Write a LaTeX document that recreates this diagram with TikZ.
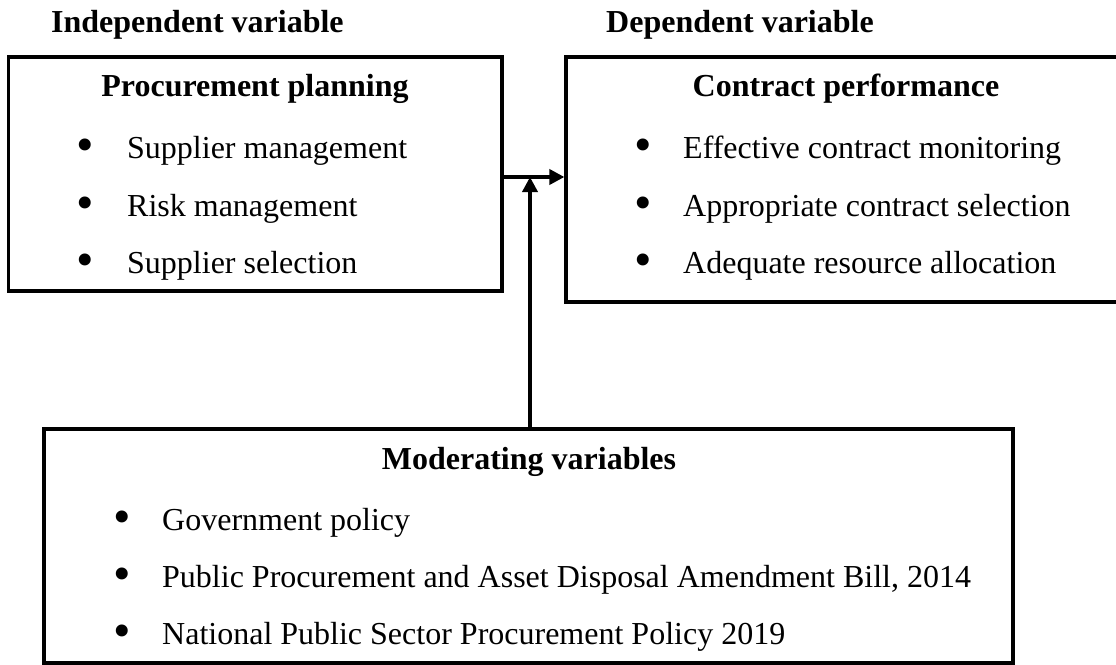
\documentclass[tikz,border=0pt]{standalone}
\usepackage{fontspec}
\setmainfont{Liberation Serif}
\usetikzlibrary{arrows.meta}
\begin{document}
\begin{tikzpicture}[x=1pt,y=-1pt,
  frame/.style={draw=black,line width=3.2pt,rectangle,inner sep=0pt},
  heading/.style={font=\fontsize{32}{38}\selectfont\bfseries,inner sep=0pt},
  item/.style={font=\fontsize{32}{38}\selectfont,inner sep=0pt,anchor=mid west},
  dot/.style={font=\fontsize{50}{60}\selectfont,inner sep=0pt,anchor=center},
  link/.style={line width=3.6pt,-{Triangle[length=15pt,width=15pt]}}]
\clip (0,0) rectangle (1116,664);
\useasboundingbox (0,0) rectangle (1116,664);

% boxes
\node[frame,minimum width=493.5pt,minimum height=234pt] (plan) at (255.25,174) {};
\node[frame,minimum width=570pt,minimum height=245pt] (perf) at (851,179.5) {};
\node[frame,minimum width=969pt,minimum height=234pt] (mod) at (528.5,546) {};

% column headings
\node[heading,anchor=west] (indep) at (51,25) {Independent variable};
\node[heading,anchor=west] (dep) at (606,25) {Dependent variable};

% procurement planning
\node[heading] (planT) at (255,89) {Procurement planning};
\foreach \y/\t [count=\i] in {156/Supplier management,214/Risk management,271/Supplier selection}{
  \node[dot] (planD\i) at (85,\y-6) {\textbullet};
  \node[item] (planI\i) at (127,\y) {\t};
}

% contract performance
\node[heading] (perfT) at (846,89) {Contract performance};
\foreach \y/\t [count=\i] in {156/Effective contract monitoring,214/Appropriate contract selection,271/Adequate resource allocation}{
  \node[dot] (perfD\i) at (643,\y-6) {\textbullet};
  \node[item] (perfI\i) at (683,\y) {\t};
}

% moderating variables
\node[heading] (modT) at (529,462) {Moderating variables};
\foreach \y/\t [count=\i] in {528/Government policy,585/{Public Procurement and Asset Disposal Amendment Bill, 2014},642/National Public Sector Procurement Policy 2019}{
  \node[dot] (modD\i) at (122,\y-6) {\textbullet};
  \node[item] (modI\i) at (162,\y) {\t};
}

% connectors
\coordinate (join) at (530,177);
\draw[link] (plan.east |- join) -- (perf.west |- join);
\draw[link] (mod.north -| join) -- (join);
\end{tikzpicture}
\end{document}
